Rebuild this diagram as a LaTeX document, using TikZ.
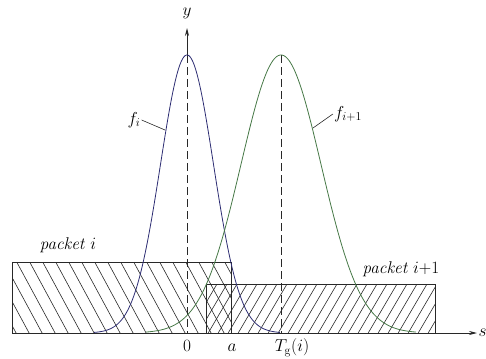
\documentclass[tikz,border=0pt]{standalone}
\usetikzlibrary{arrows.meta}
\definecolor{fblue}{RGB}{45,45,115}
\definecolor{fgreen}{RGB}{70,120,70}
\definecolor{ink}{RGB}{40,40,40}
\begin{document}
\begin{tikzpicture}[x=1pt,y=-1pt,
  font=\fontsize{17}{20}\selectfont,
  lbl/.style={inner sep=1pt},
  hatch/.style={draw=ink,line width=0.6pt},
  boxline/.style={draw=ink,line width=0.9pt},
  axisline/.style={draw=ink,line width=0.8pt,-{Stealth[length=8pt,width=4pt]}},
  guide/.style={draw=ink,line width=0.8pt,dash pattern=on 8pt off 4pt},
  curveA/.style={draw=fblue,line width=0.8pt},
  curveB/.style={draw=fgreen,line width=0.8pt},
  leader/.style={draw=ink,line width=0.6pt}]
\useasboundingbox (0,0) rectangle (486,358);
% hatching packet i
\begin{scope}
  \clip (12,262) rectangle (231,333);
  \foreach \k in {-4,...,17} \draw[hatch] ({16.7+13*\k},262) -- ++(38.4,71);
\end{scope}
% hatching packet i+1
\begin{scope}
  \clip (206,284) rectangle (435,333);
  \foreach \k in {-15,...,12} \draw[hatch] ({347+10*\k},284) -- ++(-28.8,49);
\end{scope}
\draw[boxline] (12,262) rectangle (231,333);
\draw[boxline] (206,284) rectangle (435,333);
% axes
\coordinate (xs) at (12,333);
\coordinate (xe) at (477,333);
\coordinate (O) at (187,333);
\coordinate (ye) at (187,28);
\coordinate (P1) at (187,55);
\coordinate (P2) at (281,55);
\coordinate (T) at (281,333);
\draw[axisline] (xs) -- (xe);
\draw[axisline] (P1) -- (ye);
\draw[guide] (P1) -- (O);
\draw[guide] (P2) -- (T);
% curves
\draw[curveA] plot[domain=94:280,samples=150] (\x,{333-278*exp(-0.5*((\x-187)/26.5)^2)});
\draw[curveB] plot[domain=146:416,samples=150] (\x,{333-278*exp(-0.5*((\x-281)/40)^2)});
% labels
\node[lbl] (ylab) at (187,13) {$y$};
\node[lbl,anchor=west] (slab) at (477.5,333) {$s$};
\node[lbl] (fi) at (134,120) {$f_i$};
\node[lbl] (fj) at (348,114) {$f_{i+1}$};
\coordinate (fiC) at (165,130);
\coordinate (fjC) at (313,128);
\draw[leader] (fi.east) -- (fiC);
\draw[leader] (fj.west) -- (fjC);
\node[lbl] (pi) at (68,245) {\textit{packet} $i$};
\node[lbl] (pj) at (401,269) {\textit{packet} $i{+}1$};
\node[lbl,anchor=base] (zero) at (187,351.5) {$0$};
\node[lbl,anchor=base] (alab) at (232,351.5) {$a$};
\node[lbl,anchor=base] (tg) at (292,351.5) {$T_{\mathrm{g}}(i)$};
\end{tikzpicture}
\end{document}
